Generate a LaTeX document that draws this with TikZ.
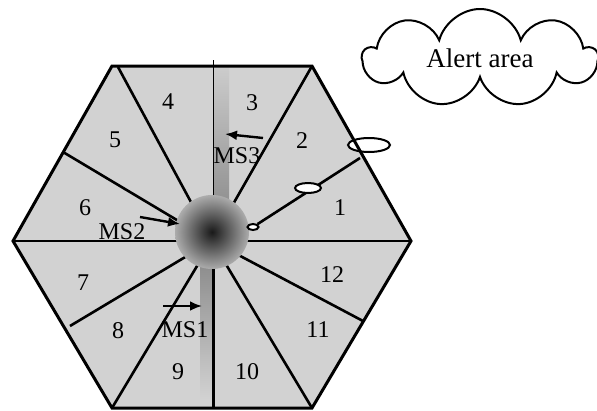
\documentclass[tikz,border=0pt]{standalone}
\usepackage{fontspec}
\setmainfont{Liberation Serif}
\usetikzlibrary{arrows.meta, shapes.geometric, shapes.symbols}

\begin{document}
\begin{tikzpicture}[
    x=1pt, y=-1pt,
    spoke/.style={line width=2.6pt},
    lbl/.style={font=\fontsize{24}{28}\selectfont, inner sep=0pt},
    move/.style={-{Latex[length=12pt,width=10pt]}, line width=2.4pt},
    blob/.style={draw, ellipse, fill=white, line width=2pt, inner sep=0pt}
]
\useasboundingbox (0,0) rectangle (597,410);

% Hexagon corners
\coordinate (c) at (212,241);
\coordinate (v1) at (411,241);
\coordinate (v2) at (312,66);
\coordinate (v3) at (112,66);
\coordinate (v4) at (13,241);
\coordinate (v5) at (112,408);
\coordinate (v6) at (312,408);

\fill[gray!35] (v1) -- (v2) -- (v3) -- (v4) -- (v5) -- (v6) -- cycle;

% Tracks
\shade[top color=gray!40, bottom color=gray!85] (213,67) rectangle (229,200);
\shade[top color=gray!90, bottom color=gray!35] (200,262) rectangle (213,400);

% Sector borders
\foreach \p in {(118,67),(63,152),(v4),(70,326),(v5),(v6),(363,321),(v1),(v2)}
    \draw[spoke] \p -- (c);
\draw[line width=0.8pt] (213,60) -- (213,200);
\draw[line width=3pt] (213,262) -- (213,408);

% Base station
\shade[inner color=black!90, outer color=gray!65] (212,232) circle[radius=37pt];
\node (bs) at (212,232) {};

% Alert path
\node[blob, minimum width=11pt, minimum height=6pt] (alarm3) at (253,227) {};
\draw[spoke] (360,158) -- (alarm3);
\node[blob, minimum width=26pt, minimum height=10pt] (alarm2) at (308,188) {};
\node[blob, minimum width=42pt, minimum height=14pt] (alarm1) at (369,145) {};

\draw[line width=3pt, line join=miter] (v1) -- (v2) -- (v3) -- (v4) -- (v5) -- (v6) -- cycle;

% Sector numbers
\node[lbl] (s1) at (340,208) {1};
\node[lbl] (s2) at (302,141) {2};
\node[lbl] (s3) at (252,103) {3};
\node[lbl] (s4) at (168,102) {4};
\node[lbl] (s5) at (115,140) {5};
\node[lbl] (s6) at (85,208) {6};
\node[lbl] (s7) at (83,283) {7};
\node[lbl] (s8) at (118,331) {8};
\node[lbl] (s9) at (178,372) {9};
\node[lbl] (s10) at (247,372) {10};
\node[lbl] (s11) at (318,330) {11};
\node[lbl] (s12) at (332,275) {12};

% Mobiles
\node[lbl] (ms1) at (185,330) {MS1};
\node[lbl] (ms2) at (122,232) {MS2};
\node[lbl] (ms3) at (237,156) {MS3};
\coordinate (ms1a) at (163,306);
\coordinate (ms1b) at (202,306);
\coordinate (ms2a) at (140,217);
\coordinate (ms2b) at (180,224);
\coordinate (ms3a) at (263,138);
\coordinate (ms3b) at (225,134);
\draw[move] (ms1a) -- (ms1b);
\draw[move] (ms2a) -- (ms2b);
\draw[move] (ms3a) -- (ms3b);

% Cloud
\node[cloud, draw, line width=2pt, cloud puffs=9, cloud ignores aspect,
      minimum width=234pt, minimum height=98pt,
      font=\fontsize{27}{30}\selectfont] (alert) at (480,58) {Alert area};

\end{tikzpicture}
\end{document}
